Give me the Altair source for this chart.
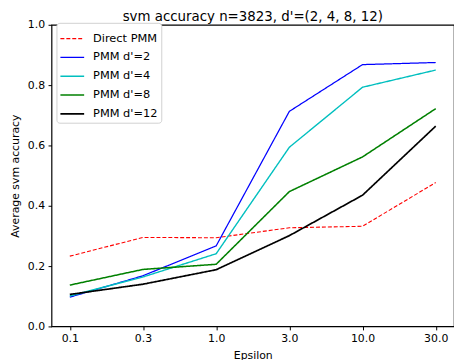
import altair as alt
import pandas as pd

epsilons = ["0.1", "0.3", "1.0", "3.0", "10.0", "30.0"]
series_names = ["Direct PMM", "PMM d'=2", "PMM d'=4", "PMM d'=8", "PMM d'=12"]
direct_pmm = [0.233, 0.295, 0.294, 0.327, 0.332, 0.477]
pmm_d2 = [0.097, 0.168, 0.267, 0.713, 0.868, 0.875]
pmm_d4 = [0.101, 0.164, 0.241, 0.594, 0.793, 0.850]
pmm_d8 = [0.137, 0.189, 0.206, 0.447, 0.562, 0.722]
pmm_d12 = [0.106, 0.140, 0.188, 0.301, 0.435, 0.664]

colors = ["#ff0000", "#0000ff", "#00bfbf", "#008000", "#000000"]
dashes = [[4, 2], [1, 0], [1, 0], [1, 0], [1, 0]]
widths = [1.1, 1.7, 1.7, 1.7, 1.7]

rows = []
for name, vals in zip(series_names, [direct_pmm, pmm_d2, pmm_d4, pmm_d8, pmm_d12]):
    for e, v in zip(epsilons, vals):
        rows.append({"Epsilon": e, "acc": v, "series": name})
df = pd.DataFrame(rows)

font = "DejaVu Sans"

chart = alt.Chart(df).mark_line().encode(
    x=alt.X("Epsilon:O", sort=epsilons,
            scale=alt.Scale(type="point", padding=0.25),
            axis=alt.Axis(title="Epsilon", labelAngle=0, tickSize=3.5, labelPadding=3,
                          titlePadding=6, domain=False)),
    y=alt.Y("acc:Q", scale=alt.Scale(domain=[0, 1], nice=False),
            axis=alt.Axis(title="Average svm accuracy", values=[0, 0.2, 0.4, 0.6, 0.8, 1.0],
                          format=".1f", tickSize=3.5, labelPadding=3.5, titlePadding=7,
                          grid=False, domain=False)),
    color=alt.Color("series:N", sort=series_names,
                    scale=alt.Scale(domain=series_names, range=colors),
                    legend=alt.Legend(title=None, orient="none", legendX=5, legendY=-2,
                                      symbolType="stroke", symbolSize=576, symbolStrokeWidth=1.8,
                                      labelFontSize=11.5, labelFont=font, labelColor="#000",
                                      labelOffset=8,
                                      fillColor="white", strokeColor="#d0d0d0",
                                      padding=3, rowPadding=-3, cornerRadius=3)),
    strokeDash=alt.StrokeDash("series:N", sort=series_names,
                              scale=alt.Scale(domain=series_names, range=dashes)),
    strokeWidth=alt.StrokeWidth("series:N", scale=alt.Scale(domain=series_names, range=widths),
                                legend=None),
).properties(
    width=407, height=305,
    title=alt.TitleParams("svm accuracy n=3823, d'=(2, 4, 8, 12)", fontSize=13.5,
                          font=font, fontWeight="normal", color="#000", offset=-5),
    padding={"left": 1, "top": 0, "right": 0, "bottom": 0},
).configure_axis(
    labelFont=font, titleFont=font, labelFontSize=11, titleFontSize=11,
    labelColor="#000", titleColor="#000", tickColor="#000", titleFontWeight="normal",
).configure_view(stroke="#000", strokeWidth=1.2)

chart.save("out.html", embed_options={"renderer": "svg", "actions": False})
